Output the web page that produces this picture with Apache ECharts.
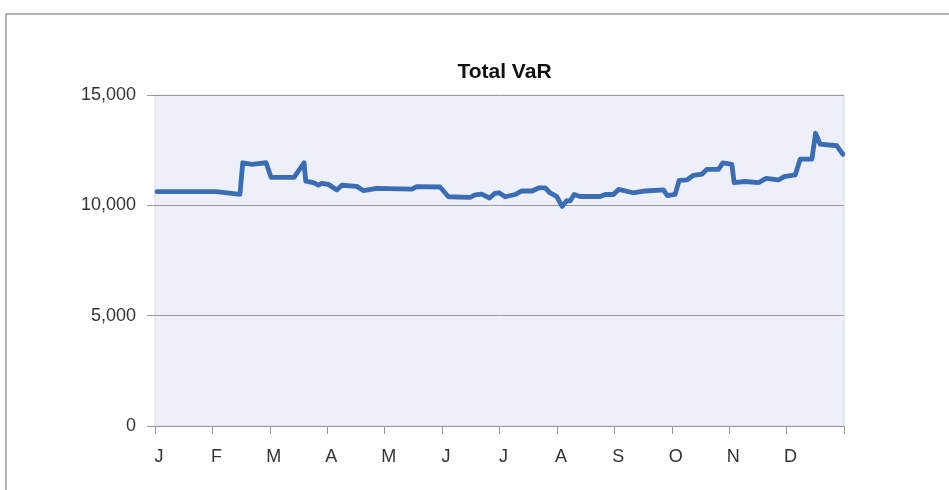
<!DOCTYPE html>
<html>
<head>
<meta charset="utf-8">
<script src="https://cdn.jsdelivr.net/npm/echarts@6/dist/echarts.min.js"></script>
<style>
html,body{margin:0;padding:0;background:#fff;}
#chart{width:949px;height:490px;}
</style>
</head>
<body>
<div id="chart"></div>
<script>
// Month tick labels (axis runs from start of Jan = 0 to end of Dec = 12)
const monthLabels = ['J','F','M','A','M','J','J','A','S','O','N','D',''];
// Position of each observation, in months since the start of the year
const monthPos = [0.035,1.063,1.48,1.528,1.685,1.934,2.021,2.422,2.596,2.625,2.758,2.845,2.904,3.019,3.166,3.253,3.514,3.629,3.862,4.472,4.559,4.965,5.110,5.488,5.575,5.692,5.828,5.915,5.993,6.098,6.272,6.389,6.568,6.690,6.794,6.882,6.995,7.091,7.169,7.230,7.300,7.404,7.753,7.840,7.984,8.075,8.328,8.537,8.855,8.925,9.059,9.129,9.263,9.378,9.524,9.611,9.814,9.890,10.047,10.087,10.279,10.51,10.645,10.859,10.958,11.150,11.237,11.441,11.504,11.585,11.876,11.981];
// Total VaR values
const varValues = [10620,10620,10500,11930,11860,11930,11270,11270,11930,11100,11030,10920,11000,10950,10700,10910,10860,10670,10770,10730,10850,10830,10390,10360,10470,10510,10330,10540,10570,10390,10490,10650,10650,10795,10795,10560,10410,9950,10210,10200,10490,10400,10400,10490,10490,10720,10570,10650,10700,10440,10500,11135,11150,11360,11410,11630,11630,11920,11860,11030,11080,11030,11220,11150,11300,11375,12090,12090,13265,12770,12700,12310];
const yTicks = [0,5000,10000,15000];

const seriesData = monthPos.map((m,i)=>[m, varValues[i]]);
const FONT = "'Helvetica Neue','Liberation Sans',Arial,sans-serif";

const chart = echarts.init(document.getElementById('chart'), null, {renderer:'canvas'});
chart.setOption({
  backgroundColor:'#ffffff',
  animation:false,
  graphic:[{
    type:'rect', left:3.5, top:11.5, silent:true, z:-10,
    shape:{x:0,y:0,width:1000,height:600},
    style:{fill:'none', stroke:'#9c9c9c', lineWidth:1.5}
  }],
  title:{
    text:'Total VaR', left:499.5, top:57, textAlign:'center',
    textStyle:{fontFamily:FONT, fontSize:21, fontWeight:'bold', color:'#111'}
  },
  grid:{
    left:155, right:105, top:95, bottom:64,
    show:true, backgroundColor:'#edf0f8', borderColor:'#d6d9e2', borderWidth:1
  },
  xAxis:{
    type:'value', min:0, max:12, interval:1,
    axisLine:{show:true, lineStyle:{color:'#9a9a9a', width:1}},
    axisTick:{show:true, length:8, lineStyle:{color:'#9a9a9a'}},
    splitLine:{show:false},
    axisLabel:{
      margin:22, color:'#333', fontFamily:FONT, fontSize:18, padding:[0,0,0,8],
      formatter:(v)=>monthLabels[Math.round(v)] || ''
    }
  },
  yAxis:{
    type:'value', min:yTicks[0], max:yTicks[yTicks.length-1], interval:5000,
    axisLine:{show:false},
    axisTick:{show:true, length:8, lineStyle:{color:'#9a9a9a'}},
    splitLine:{show:true, lineStyle:{color:'#9a9a9a', width:1}},
    axisLabel:{
      margin:19, color:'#333', fontFamily:FONT, fontSize:18, padding:[0,0,8,0],
      formatter:(v)=>Number(v).toLocaleString('en-US')
    }
  },
  series:[{
    type:'line', data:seriesData, showSymbol:false, symbol:'none',
    lineStyle:{color:'#3a6db4', width:4.8, join:'round', cap:'round'},
    z:5
  }]
});
</script>
</body>
</html>
